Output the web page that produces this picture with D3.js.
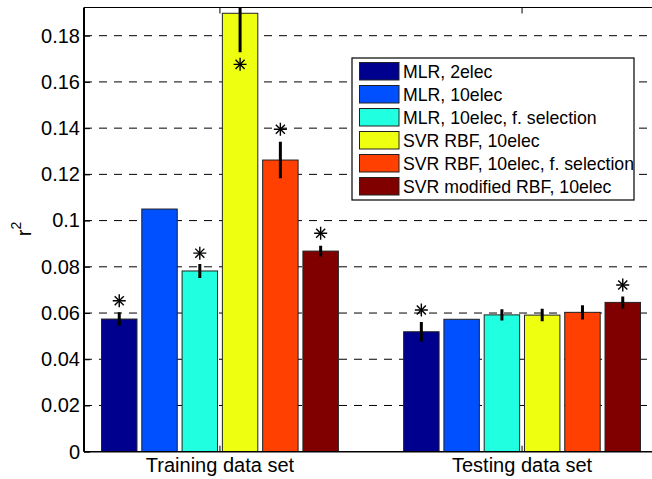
<!DOCTYPE html>
<meta charset="utf-8">
<head>
    <title>r2 bars</title>
    <style>
        body { margin: 0; background: #fff; }
        svg text { font-family: "Liberation Sans", Arial, Helvetica, sans-serif; fill: #000; }
        .grid line { stroke: #000; stroke-width: 1; stroke-dasharray: 8,7; }
        .bar { stroke: #222; stroke-width: 1; }
        .err { stroke: #000; stroke-width: 3; }
        .star line { stroke: #000; stroke-width: 1.4; }
        .axis path { display: none; }
        .axis line { stroke: #000; stroke-width: 1; }
        .axis text { font-size: 20px; }
    </style>
</head>
<body>
<svg width="652" height="479"></svg>

<script src="https://cdn.jsdelivr.net/npm/d3@7"></script>
<script>
    // data
    var groups = ["Training data set", "Testing data set"];
    var methods = ["MLR, 2elec", "MLR, 10elec", "MLR, 10elec, f. selection",
                   "SVR RBF, 10elec", "SVR RBF, 10elec, f. selection", "SVR modified RBF, 10elec"];
    var colors = ["#00008f", "#0050ff", "#20ffdf", "#efff10", "#ff4000", "#800000"];

    var trainValues = [0.0574, 0.1050, 0.0782, 0.1897, 0.1262, 0.0868];
    var testValues  = [0.0519, 0.0573, 0.0592, 0.0591, 0.0603, 0.0646];
    var trainErr = [0.0029, 0, 0.0030, 0.0169, 0.0079, 0.0023];
    var testErr  = [0.0042, 0, 0.0024, 0.0027, 0.0031, 0.0026];
    // asterisk markers (null = none)
    var trainStar = [0.0653, null, 0.0859, 0.1676, 0.1395, 0.0945];
    var testStar  = [0.0613, null, null, null, null, 0.0721];

    var yTicks = [0, 0.02, 0.04, 0.06, 0.08, 0.1, 0.12, 0.14, 0.16, 0.18];

    var svg = d3.select("svg");
    var pLeft = 84, pRight = 658, pTop = 7.5, pBottom = 451.7;

    var x = d3.scaleLinear().domain([0.55, 2.45]).range([pLeft, pRight]);
    var y = d3.scaleLinear().domain([0, 0.1922]).range([pBottom, pTop]);

    var n = methods.length;
    var step = 0.8 / n;          // spacing of bars inside a group
    var bw = step * 0.88;        // bar width

    var data = [];
    [trainValues, testValues].forEach(function (vals, gi) {
        var errs = gi == 0 ? trainErr : testErr;
        var stars = gi == 0 ? trainStar : testStar;
        vals.forEach(function (v, k) {
            data.push({g: gi + 1, k: k, v: v, e: errs[k], s: stars[k]});
        });
    });
    function cx(d) { return x(d.g + (d.k - (n - 1) / 2) * step); }

    svg.append("clipPath").attr("id", "plotclip")
        .append("rect")
        .attr("x", pLeft).attr("y", pTop)
        .attr("width", pRight - pLeft).attr("height", pBottom - pTop);

    // grid
    svg.append("g").attr("class", "grid")
        .selectAll("line")
        .data(yTicks.slice(1))
        .enter().append("line")
        .attr("x1", pLeft).attr("x2", pRight)
        .attr("y1", function (d) { return y(d); })
        .attr("y2", function (d) { return y(d); });

    var plot = svg.append("g").attr("clip-path", "url(#plotclip)");

    plot.selectAll(".bar")
        .data(data)
        .enter().append("rect")
        .attr("class", "bar")
        .attr("x", function (d) { return cx(d) - (x(bw) - x(0)) / 2; })
        .attr("width", x(bw) - x(0))
        .attr("y", function (d) { return y(d.v); })
        .attr("height", function (d) { return y(0) - y(d.v); })
        .attr("fill", function (d) { return colors[d.k]; });

    plot.selectAll(".err")
        .data(data.filter(function (d) { return d.e > 0; }))
        .enter().append("line")
        .attr("class", "err")
        .attr("x1", cx).attr("x2", cx)
        .attr("y1", function (d) { return y(d.v - d.e); })
        .attr("y2", function (d) { return y(d.v + d.e); });

    var r = 6.5;
    var stars = plot.selectAll(".star")
        .data(data.filter(function (d) { return d.s != null; }))
        .enter().append("g")
        .attr("class", "star")
        .attr("transform", function (d) { return "translate(" + cx(d) + "," + y(d.s) + ")"; });
    [[0, -r, 0, r], [-r, 0, r, 0], [-r * 0.7, -r * 0.7, r * 0.7, r * 0.7], [-r * 0.7, r * 0.7, r * 0.7, -r * 0.7]]
        .forEach(function (a) {
            stars.append("line").attr("x1", a[0]).attr("y1", a[1]).attr("x2", a[2]).attr("y2", a[3]);
        });

    // axes
    svg.append("g")
        .attr("class", "axis")
        .attr("transform", "translate(" + pLeft + ",0)")
        .call(d3.axisLeft(y).tickValues(yTicks).tickSizeInner(-6).tickSizeOuter(0).tickPadding(4)
            .tickFormat(function (d) { return String(+d.toFixed(2)); }));

    var xa = svg.append("g").attr("class", "axis");
    xa.selectAll(".xt")
        .data([1, 2])
        .enter().append("line")
        .attr("x1", x).attr("x2", x)
        .attr("y1", pBottom).attr("y2", pBottom - 6);
    xa.selectAll(".xt2")
        .data([1, 2])
        .enter().append("line")
        .attr("x1", x).attr("x2", x)
        .attr("y1", pTop).attr("y2", pTop + 6);
    xa.selectAll("text")
        .data(groups)
        .enter().append("text")
        .attr("x", function (d, i) { return x(i + 1); })
        .attr("y", 472)
        .attr("text-anchor", "middle")
        .text(function (d) { return d; });

    // box
    svg.append("line").attr("x1", pLeft).attr("x2", pRight).attr("y1", pTop).attr("y2", pTop)
        .attr("stroke", "#000").attr("stroke-width", 1.2);
    svg.append("line").attr("x1", pLeft).attr("x2", pRight).attr("y1", pBottom).attr("y2", pBottom)
        .attr("stroke", "#000").attr("stroke-width", 1.5);
    svg.append("line").attr("x1", pLeft).attr("x2", pLeft).attr("y1", pTop).attr("y2", pBottom)
        .attr("stroke", "#000").attr("stroke-width", 2);

    // y label r^2
    var yl = svg.append("text")
        .attr("transform", "translate(31,229) rotate(-90)")
        .attr("text-anchor", "middle")
        .style("font-size", "20px");
    yl.append("tspan").text("r");
    yl.append("tspan").attr("dy", -10).style("font-size", "14px").text("2");

    // legend
    var lg = svg.append("g").attr("transform", "translate(352,58)");
    lg.append("rect")
        .attr("width", 282).attr("height", 142)
        .attr("fill", "#fff").attr("stroke", "#000").attr("stroke-width", 1.2);
    var rows = lg.selectAll(".row")
        .data(methods)
        .enter().append("g")
        .attr("transform", function (d, i) { return "translate(0," + (4.5 + i * 23) + ")"; });
    rows.append("rect")
        .attr("x", 7.5).attr("width", 39.5).attr("height", 17.5)
        .attr("fill", function (d, i) { return colors[i]; })
        .attr("stroke", "#222").attr("stroke-width", 1);
    rows.append("text")
        .attr("x", 51).attr("y", 15.5)
        .style("font-size", "17.7px")
        .text(function (d) { return d; });
</script>
</body>
